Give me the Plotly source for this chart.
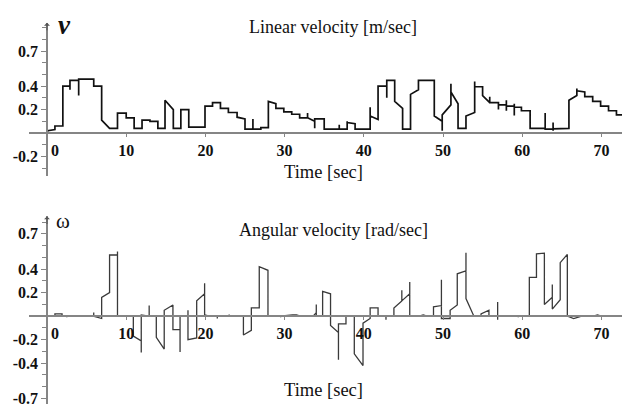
import plotly.graph_objects as go

W, H = 623, 407

# ---- data (polyline vertices) ----
# Linear velocity [m/sec]
lin_t = [-0.2, 0, 0.1, 1, 1, 2, 2, 2.9, 2.9, 2.9, 4, 4, 4, 5.9, 5.9, 6.9, 6.9, 7.9, 8.9, 8.9,
         10, 10, 11, 11, 12, 12, 13, 13, 14, 14, 14.9, 14.9, 15.95, 15.95, 16.9, 16.9, 17.9, 17.9,
         19.95, 19.95, 20.9, 20.9, 21.9, 21.9, 22.9, 22.9, 24, 24, 25, 25, 26, 26, 26, 27, 27,
         27.95, 27.95, 28.9, 28.9, 29.9, 29.9, 30.9, 30.9, 31.9, 31.9, 32.9, 32.9, 32.9, 33.8,
         33.8, 33.8, 35, 35, 36.9, 36.9, 36.9, 37.9, 37.9, 37.9, 38.9, 38.9, 40.8, 40.8, 40.8,
         41.8, 41.8, 42.9, 42.9, 42.9, 43.9, 43.9, 44.9, 44.9, 45.9, 45.9, 46.9, 46.9, 48.9, 48.9,
         49.9, 49.9, 49.9, 51, 51, 51, 51.9, 51.9, 52.9, 52.9, 54, 54, 54, 55, 55, 55.9, 55.9,
         55.9, 57, 57, 57, 58, 58, 58, 58, 59, 59, 59, 59, 59.9, 59.9, 61, 61, 62.9, 62.9, 62.9,
         63.9, 63.9, 63.9, 63.9, 65.9, 65.9, 66.9, 66.9, 66.9, 67.9, 67.9, 68.9, 68.9, 69.9,
         69.9, 70.9, 70.9, 71.9, 71.9, 72.6]
lin_v = [0, 0, 0.02, 0.03, 0.06, 0.06, 0.40, 0.40, 0.37, 0.45, 0.45, 0.32, 0.46, 0.46, 0.40,
         0.40, 0.11, 0.04, 0.04, 0.17, 0.17, 0.13, 0.13, 0.04, 0.04, 0.11, 0.11, 0.10, 0.10, 0.04,
         0.04, 0.28, 0.20, 0.04, 0.04, 0.20, 0.20, 0.05, 0.05, 0.23, 0.23, 0.26, 0.26, 0.21, 0.21,
         0.175, 0.175, 0.135, 0.12, 0.034, 0.034, 0.12, 0.034, 0.034, 0.046, 0.046, 0.27, 0.25,
         0.21, 0.21, 0.18, 0.18, 0.16, 0.16, 0.13, 0.13, 0.17, 0.13, 0.10, 0.04, 0.12, 0.12,
         0.034, 0.034, 0.07, 0.034, 0.034, 0.10, 0.09, 0.08, 0.034, 0.034, 0.22, 0.145, 0.115,
         0.40, 0.40, 0.30, 0.45, 0.45, 0.27, 0.21, 0.034, 0.034, 0.33, 0.37, 0.45, 0.45, 0.145,
         0.10, 0.02, 0.155, 0.24, 0.42, 0.35, 0.25, 0.04, 0.04, 0.145, 0.175, 0.44, 0.395, 0.395,
         0.32, 0.26, 0.31, 0.26, 0.26, 0.20, 0.24, 0.24, 0.28, 0.19, 0.23, 0.23, 0.25, 0.15, 0.22,
         0.22, 0.19, 0.19, 0.04, 0.04, 0.17, 0.034, 0.034, 0.09, 0.02, 0.035, 0.04, 0.28, 0.32,
         0.38, 0.36, 0.35, 0.31, 0.31, 0.27, 0.27, 0.23, 0.23, 0.19, 0.19, 0.155, 0.155]

# Angular velocity [rad/sec]
ang_t = [0, 1, 1, 1.9, 1.9, 2.5, 2.5, 2.5, 5.9, 5.9, 5.9, 6.9, 6.9, 7.9, 7.9, 8.9, 8.9, 8.9,
         10.9, 10.9, 11.9, 11.9, 11.9, 12.9, 12.9, 12.9, 13.8, 13.8, 14.8, 14.8, 15.9, 15.9,
         16.8, 16.8, 16.8, 17.8, 17.8, 17.8, 18.9, 18.9, 19.9, 19.9, 19.9, 20.5, 21.5, 21.5,
         21.5, 23.0, 23.0, 23.0, 24.8, 24.8, 25.8, 25.8, 26.8, 26.8, 27.9, 27.9, 29.5, 29.5, 29.5,
         31.0, 31.5, 32.0, 33.6, 34.0, 34.0, 34.0, 34.8, 34.8, 35.8, 35.8, 36.8, 36.8, 36.8,
         37.75, 37.75, 38.8, 38.8, 39.9, 39.9, 40.8, 40.8, 41.8, 41.8, 42.8, 42.8, 42.8, 43.8,
         43.8, 44.8, 44.8, 44.8, 45.8, 45.8, 45.8, 47.0, 47.5, 48.0, 48.8, 48.8, 49.8, 49.8,
         49.8, 50.9, 50.9, 51.8, 51.8, 52.9, 52.9, 52.9, 53.9, 54.8, 54.8, 55.8, 55.8, 56.9,
         56.9, 56.9, 56.9, 58.0, 58.0, 58.0, 59.5, 59.5, 59.5, 60.9, 60.9, 61.8, 61.8, 62.8,
         62.8, 63.8, 63.8, 63.8, 64.8, 64.8, 65.7, 65.7, 66.5, 67.0, 67.5, 69.0, 69.5, 70.0, 72.6]
ang_w = [0, 0, 0.02, 0.02, 0, 0, -0.01, 0, 0, 0.03, 0, -0.02, 0.16, 0.20, 0.52, 0.52, 0.55, 0,
         0, -0.17, -0.21, -0.31, 0.01, 0, 0.09, 0, 0, -0.18, -0.28, 0.05, 0.095, -0.115, -0.115,
         -0.305, 0, 0, 0.05, -0.2, -0.185, 0.13, 0.19, 0.28, 0.01, 0, 0, -0.02, 0, 0, 0.015, 0,
         0, -0.16, -0.12, 0.07, 0.07, 0.42, 0.39, 0, 0, -0.01, 0, 0.01, 0.01, 0, 0, 0.03, 0.10,
         0, 0, 0.21, 0.19, -0.08, -0.14, -0.37, -0.065, -0.065, 0, 0, -0.32, -0.42, -0.06,
         -0.02, 0.07, 0.07, 0, 0, -0.03, 0, 0, 0.07, 0.13, 0.22, 0.13, 0.19, 0.29, 0, 0, 0.01,
         0, 0, 0.08, 0.09, 0.31, -0.02, -0.02, 0.05, 0.095, 0.36, 0.386, 0.54, 0.15, 0, 0, 0.02,
         0.05, 0, 0, 0.12, -0.03, 0, 0, 0.01, 0, 0, -0.01, 0, 0, 0.33, 0.33, 0.53, 0.535, 0.10,
         0.16, 0.27, 0.06, 0.14, 0.455, 0.525, 0, -0.02, -0.01, 0, 0, 0.01, 0, 0]

x_tickvals = [0, 10, 20, 30, 40, 50, 60, 70]
x_ticktext = ["\u00a0\u00a0\u00a0\u00a00", "10", "20", "30", "40", "50", "60", "70"]
lin_yticks = [-0.2, 0.2, 0.4, 0.7]
lin_yticktext = ["-0.2", "0.2", "0.4", "0.7"]
ang_yticks = [-0.7, -0.4, -0.2, 0.2, 0.4, 0.7]
ang_yticktext = ["-0.7", "-0.4", "-0.2", "0.2", "0.4", "0.7"]

top_title = "Linear velocity [m/sec]"
bot_title = "Angular velocity [rad/sec]"
x_title = "Time [sec]"

# ---- layout geometry (pixels) ----
x_left_px, x_right_px, y_axis_px = 29, 622, 47
x_scale = 7.92
xr = [(x_left_px - y_axis_px) / x_scale, (x_right_px - y_axis_px) / x_scale]

top_px = (23, 177, 134)   # top, bottom, zero
bot_px = (218, 407, 318.5)
yscale_top, yscale_bot = 118.0, 118.5

def pdom(a, b):
    return [1 - b / H, 1 - a / H]

SERIF = "Liberation Serif, Times New Roman, serif"
AX = "#858585"

fig = go.Figure()
fig.add_trace(go.Scatter(x=lin_t, y=lin_v, mode="lines", xaxis="x", yaxis="y",
                         line=dict(color="#111111", width=1.7), hoverinfo="skip"))
fig.add_trace(go.Scatter(x=ang_t, y=ang_w, mode="lines", xaxis="x2", yaxis="y2",
                         line=dict(color="#3a3a3a", width=1.3), hoverinfo="skip"))

tickfont = dict(family=SERIF, size=16, color="#111111", weight="bold")

def xaxis(zero_px):
    return dict(domain=[x_left_px / W, x_right_px / W], range=xr, anchor="free",
                position=1 - zero_px / H, showline=True, linecolor=AX, linewidth=1.6,
                showgrid=False, zeroline=False, tickmode="array", tickvals=x_tickvals,
                ticktext=x_ticktext, ticks="outside", ticklen=3, tickcolor=AX,
                tickfont=tickfont, fixedrange=True)

def yaxis(px, scale, tv, tt, minor_vals):
    top, bot, zero = px
    return dict(domain=pdom(top, bot), range=[-(bot - zero) / scale, (zero - top) / scale],
                anchor="free", position=y_axis_px / W, showline=True, linecolor=AX,
                linewidth=1.6, showgrid=False, zeroline=False, tickmode="array",
                tickvals=tv, ticktext=tt, ticks="outside", ticklen=5, tickcolor=AX,
                tickfont=tickfont, ticklabeloverflow="allow",
                minor=dict(tickmode="array", tickvals=minor_vals, ticks="outside",
                           ticklen=4, tickcolor=AX, showgrid=False),
                fixedrange=True)

minor_top = [round(-0.3 + 0.1 * i, 1) for i in range(13)]
minor_bot = [round(-0.7 + 0.1 * i, 1) for i in range(16)]

fig.update_layout(
    width=W, height=H, margin=dict(l=0, r=0, t=0, b=0),
    paper_bgcolor="white", plot_bgcolor="white", showlegend=False,
    xaxis=xaxis(top_px[2]), xaxis2=xaxis(bot_px[2]),
    yaxis=yaxis(top_px, yscale_top, lin_yticks, lin_yticktext, minor_top),
    yaxis2=yaxis(bot_px, yscale_bot, ang_yticks, ang_yticktext, minor_bot),
)

def pann(text, x, y, size, **kw):
    fig.add_annotation(text=text, x=x / W, y=1 - y / H, xref="paper", yref="paper",
                       showarrow=False, font=dict(family=SERIF, size=size, color="#111111"),
                       xanchor="center", yanchor="middle", **kw)

pann(top_title, 333, 27, 18)
pann(bot_title, 333, 232, 18)
pann(x_title, 323, 173, 18.5)
pann(x_title, 323, 393, 18.5)
pann("<b><i>v</i></b>", 64, 25, 27)
pann("ω", 63, 223, 21)

# axis arrows
for xr_, yr_, top in (("x", "y", (top_px[2] - top_px[0]) / yscale_top),
                       ("x2", "y2", (bot_px[2] - bot_px[0]) / yscale_bot)):
    fig.add_annotation(x=0, y=top, xref=xr_, yref=yr_, ax=0, ay=9, text="",
                       showarrow=True, arrowhead=1, arrowsize=0.9, arrowwidth=1.1,
                       arrowcolor="#555555")

fig.write_html(
    "out.html",
    config={"displayModeBar": False},
    post_script="document.body.style.margin='0';document.body.style.overflow='hidden';",
)
